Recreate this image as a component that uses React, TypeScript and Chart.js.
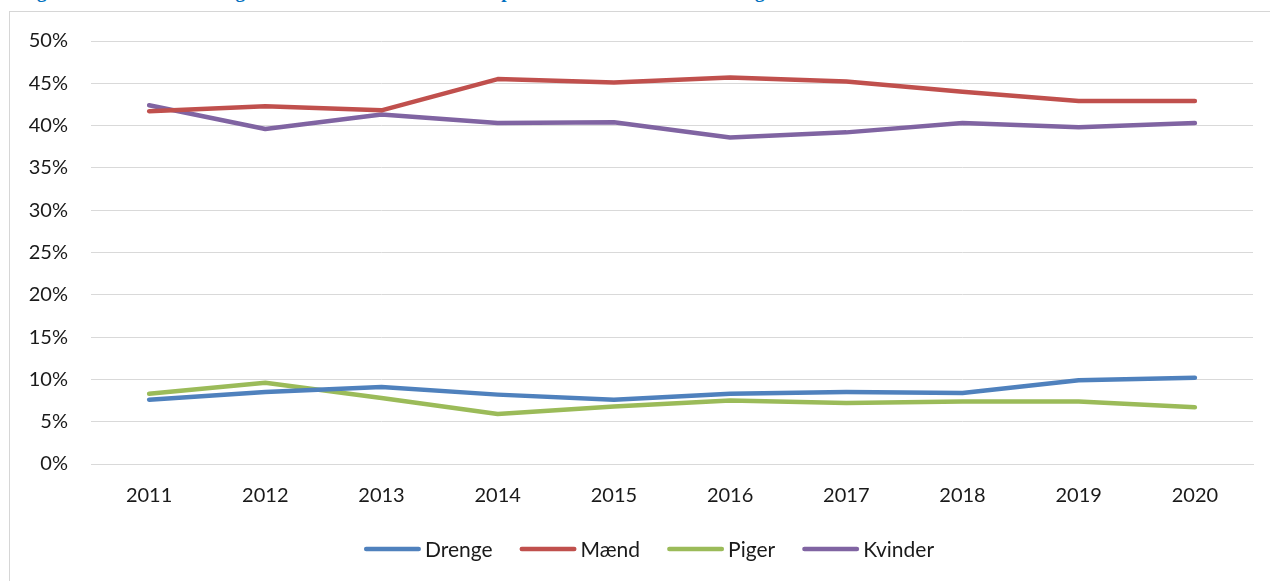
import React, { useEffect, useRef } from "react";
import { Chart, registerables } from "chart.js";

Chart.register(...registerables);

const TITLE = "Figur 8: Andelen af børn og voksne i alderen 11-74 år som spiller mindst én hel time hver uge";
const YEARS = ["2011", "2012", "2013", "2014", "2015", "2016", "2017", "2018", "2019", "2020"];
const SERIES_NAMES = ["Drenge", "Mænd", "Piger", "Kvinder"];
const SERIES_COLORS = ["#4F81BD", "#C0504D", "#9BBB59", "#8064A2"];
const DRENGE = [7.6, 8.5, 9.1, 8.2, 7.6, 8.3, 8.5, 8.4, 9.9, 10.2];
const MAEND = [41.7, 42.3, 41.8, 45.5, 45.1, 45.7, 45.2, 44.0, 42.9, 42.9];
const PIGER = [8.3, 9.6, 7.8, 5.9, 6.8, 7.5, 7.2, 7.4, 7.4, 6.7];
const KVINDER = [42.4, 39.6, 41.3, 40.3, 40.4, 38.6, 39.2, 40.3, 39.8, 40.3];
const Y_MIN = 0;
const Y_MAX = 50;
const Y_STEP = 5;

const FONT = "Lato, 'Noto Sans', sans-serif";

const legendPlugin = {
  id: "customLegend",
  afterDraw(chart: any) {
    const ctx = chart.ctx;
    const ds = chart.data.datasets;
    ctx.save();
    ctx.font = `21px ${FONT}`;
    const lineLen = 57;
    const gapText = 4;
    const gapItem = 27;
    const widths = ds.map((d: any) => ctx.measureText(d.label).width);
    let total = 0;
    widths.forEach((w: number, i: number) => {
      total += lineLen + gapText + w + (i < widths.length - 1 ? gapItem : 0);
    });
    let x = 649 - total / 2;
    const y = 549;
    ds.forEach((d: any, i: number) => {
      ctx.strokeStyle = d.borderColor;
      ctx.lineWidth = 4.5;
      ctx.lineCap = "round";
      ctx.beginPath();
      ctx.moveTo(x + 2.25, y);
      ctx.lineTo(x + lineLen - 2.25, y);
      ctx.stroke();
      ctx.fillStyle = "#1a1a1a";
      ctx.textBaseline = "middle";
      ctx.textAlign = "left";
      ctx.fillText(d.label, x + lineLen + gapText, y + 1);
      x += lineLen + gapText + widths[i] + gapItem;
    });
    ctx.restore();
  },
};

export default function App() {
  const canvasRef = useRef<HTMLCanvasElement | null>(null);

  useEffect(() => {
    if (!canvasRef.current) return;
    const values = [DRENGE, MAEND, PIGER, KVINDER];
    const chart = new Chart(canvasRef.current, {
      type: "line",
      data: {
        labels: YEARS,
        datasets: SERIES_NAMES.map((name, i) => ({
          label: name,
          data: values[i],
          borderColor: SERIES_COLORS[i],
          backgroundColor: SERIES_COLORS[i],
          borderWidth: 4.5,
          pointRadius: 0,
          pointHoverRadius: 0,
          borderCapStyle: "round" as const,
          borderJoinStyle: "round" as const,
          tension: 0,
          fill: false,
        })),
      },
      options: {
        animation: false,
        responsive: false,
        maintainAspectRatio: false,
        layout: { padding: { left: 0, top: 41, right: 17, bottom: 57 } },
        plugins: {
          legend: { display: false },
          tooltip: { enabled: false },
          title: { display: false },
        },
        scales: {
          x: {
            type: "category",
            offset: true,
            grid: { display: false, drawTicks: false },
            border: { display: true, color: "#d9d9d9", width: 1 },
            ticks: {
              font: { family: FONT, size: 20 },
              color: "#1a1a1a",
              padding: 20,
              maxRotation: 0,
            },
            afterFit: (scale: any) => {
              scale.height = 60;
            },
          },
          y: {
            min: Y_MIN,
            max: Y_MAX,
            grid: { color: "#d9d9d9", lineWidth: 1, drawTicks: false },
            border: { display: false },
            ticks: {
              stepSize: Y_STEP,
              font: { family: FONT, size: 20 },
              color: "#1a1a1a",
              padding: 23,
              callback: (v: any) => `${v}%`,
            },
            afterFit: (scale: any) => {
              scale.width = 91;
            },
          },
        },
      },
      plugins: [legendPlugin],
    });
    return () => chart.destroy();
  }, []);

  return (
    <div
      style={{
        position: "fixed",
        left: 0,
        top: 0,
        width: 1270,
        height: 581,
        overflow: "hidden",
        background: "#ffffff",
      }}
    >
      <div
        style={{
          position: "absolute",
          left: 20,
          top: -18,
          whiteSpace: "nowrap",
          fontFamily: "'Liberation Serif', 'Times New Roman', serif",
          fontWeight: "bold",
          fontSize: 19,
          lineHeight: "19px",
          color: "#0070C0",
        }}
      >
        {TITLE}
      </div>
      <div
        style={{
          position: "absolute",
          left: 9,
          top: 11,
          width: 1320,
          height: 700,
          border: "1.5px solid #d6d6d6",
        }}
      />
      <canvas
        ref={canvasRef}
        width={1270}
        height={581}
        style={{ position: "absolute", left: 0, top: 0, width: 1270, height: 581 }}
      />
    </div>
  );
}
